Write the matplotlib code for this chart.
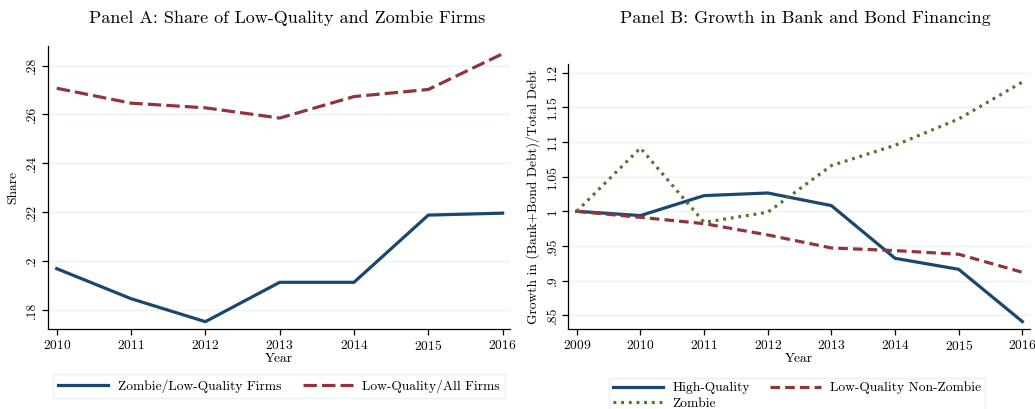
import matplotlib
matplotlib.use("Agg")
from matplotlib import pyplot as plt

plt.rcParams['font.family'] = 'serif'
plt.rcParams['font.serif'] = ['cmr10', 'DejaVu Serif']
plt.rcParams['axes.formatter.use_mathtext'] = True

# Panel A data
years_a = [2010, 2011, 2012, 2013, 2014, 2015, 2016]
zombie_lq = [0.1969, 0.1846, 0.1752, 0.1913, 0.1913, 0.2188, 0.2196]
lq_all = [0.2707, 0.2646, 0.2627, 0.2585, 0.2673, 0.2702, 0.2848]
yticks_a = [0.18, 0.20, 0.22, 0.24, 0.26, 0.28]
ylabels_a = ['.18', '.2', '.22', '.24', '.26', '.28']

# Panel B data
years_b = [2009, 2010, 2011, 2012, 2013, 2014, 2015, 2016]
high_q = [1.0, 0.9938, 1.0226, 1.0264, 1.0082, 0.9322, 0.9163, 0.8409]
lq_nonzombie = [1.0, 0.9913, 0.9822, 0.9659, 0.9471, 0.9433, 0.9380, 0.9120]
zombie = [1.0, 1.0913, 0.9841, 0.9986, 1.0659, 1.0952, 1.1332, 1.1865]
yticks_b = [0.85, 0.9, 0.95, 1.0, 1.05, 1.1, 1.15, 1.2]
ylabels_b = ['.85', '.9', '.95', '1', '1.05', '1.1', '1.15', '1.2']

navy = '#1a476f'
maroon = '#90353b'
green = '#55752f'
grid_col = '#eaf2f3'
fs = 9.7

fig = plt.figure(figsize=(10.35, 4.09), dpi=100)
ax1 = fig.add_axes([0.0464, 0.1956, 0.4464, 0.692])
ax2 = fig.add_axes([0.5491, 0.1949, 0.4461, 0.648])


def style_axis(ax, yticks, ylabels):
    ax.set_yticks(yticks)
    ax.set_yticklabels(ylabels, rotation=90, va='center')
    ax.grid(axis='y', color=grid_col, linewidth=1.0)
    ax.set_axisbelow(True)
    for s in ['top', 'right']:
        ax.spines[s].set_visible(False)
    for s in ['left', 'bottom']:
        ax.spines[s].set_linewidth(0.9)
    ax.tick_params(direction='out', length=4.5, width=0.9, labelsize=fs, pad=2.5)
    ax.set_xlabel('Year', fontsize=fs, labelpad=0)


# Panel A
ax1.plot(years_a, zombie_lq, color=navy, lw=2.3, label='Zombie/Low-Quality Firms')
ax1.plot(years_a, lq_all, color=maroon, lw=2.3, dashes=(4.2, 1.6), label='Low-Quality/All Firms')
ax1.set_xlim(2009.883, 2016.10)
ax1.set_ylim(0.1722, 0.288)
ax1.set_xticks(years_a)
style_axis(ax1, yticks_a, ylabels_a)
ax1.set_ylabel('Share', fontsize=fs, labelpad=5)
fig.text(287 / 1035, 1 - 18 / 409, 'Panel A: Share of Low-Quality and Zombie Firms',
         ha='center', va='center', fontsize=13)

# Panel B
ax2.plot(years_b, high_q, color=navy, lw=2.3, label='High-Quality')
ax2.plot(years_b, lq_nonzombie, color=maroon, lw=2.3, dashes=(3.0, 1.6), label='Low-Quality Non-Zombie')
ax2.plot(years_b, zombie, color=green, lw=2.3, dashes=(0.9, 1.5), label='Zombie')
ax2.set_xlim(2008.868, 2016.12)
ax2.set_ylim(0.8298, 1.2121)
ax2.set_xticks(years_b)
style_axis(ax2, yticks_b, ylabels_b)
ax2.set_ylabel('Growth in (Bank+Bond Debt)/Total Debt', fontsize=fs, labelpad=5)
fig.text(805 / 1035, 1 - 18 / 409, 'Panel B: Growth in Bank and Bond Financing',
         ha='center', va='center', fontsize=13)

h1, l1 = ax1.get_legend_handles_labels()
fig.legend(h1, l1, loc='center',
           bbox_to_anchor=(279 / 1035, 1 - 386 / 409), ncol=2,
           fontsize=fs, handlelength=3.75, handletextpad=0.68, columnspacing=1.6,
           borderpad=0.4, fancybox=False, edgecolor=grid_col, framealpha=1)

# row-wise order: High-Quality, Low-Quality Non-Zombie / Zombie
h2, l2 = ax2.get_legend_handles_labels()
order = [0, 2, 1]
fig.legend([h2[i] for i in order], [l2[i] for i in order], loc='upper center',
           bbox_to_anchor=(797 / 1035, 1 - 371 / 409), ncol=2,
           fontsize=fs, handlelength=3.75, handletextpad=0.68, columnspacing=1.5,
           labelspacing=0.2, borderpad=0.3, fancybox=False,
           edgecolor=grid_col, framealpha=1)

fig.savefig('out.png', dpi=100)
